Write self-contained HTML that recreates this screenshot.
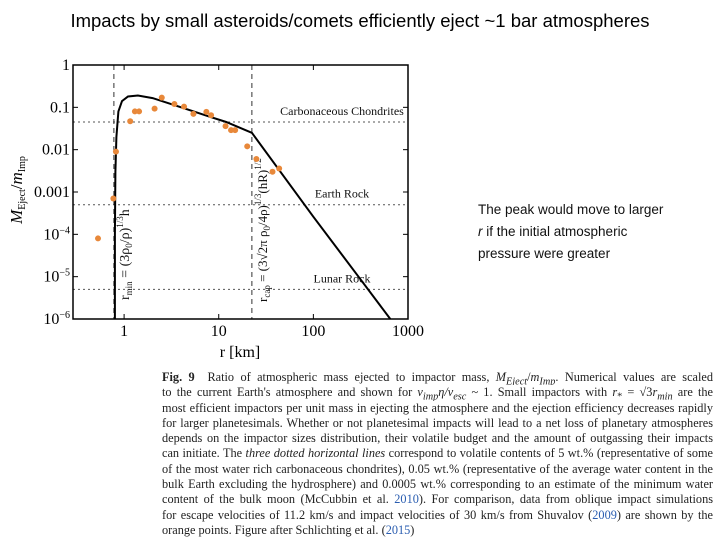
<!DOCTYPE html>
<html><head><meta charset="utf-8"><style>
html,body{margin:0;padding:0;background:#fff;width:720px;height:540px;overflow:hidden;position:relative}
.title{position:absolute;left:0;top:10px;width:720px;text-align:center;font:18.5px "Liberation Sans",sans-serif;color:#000}
.note{position:absolute;left:478px;top:199px;width:240px;white-space:nowrap;font:13.5px/22px "Liberation Sans",sans-serif;color:#111}
.cap{position:absolute;left:162px;top:370px;width:551px;font:12.3px/15.3px "Liberation Serif",serif;color:#222}
.cap div{text-align:justify;text-align-last:justify;white-space:nowrap;height:15.3px;overflow:hidden}
.cap div.last{text-align-last:left}
.b{color:#2a5db0}
</style></head><body>
<div class="title">Impacts by small asteroids/comets efficiently eject ~1 bar atmospheres</div>
<svg id="chart" width="720" height="540" style="position:absolute;left:0;top:0" font-family="Liberation Serif, serif"></svg>
<div class="note">The peak would move to larger<br><i>r</i> if the initial atmospheric<br>pressure were greater</div>
<div class="cap">
<div><b>Fig. 9</b>&nbsp; Ratio of atmospheric mass ejected to impactor mass, <i>M<sub>Eject</sub></i>/<i>m<sub>Imp</sub></i>. Numerical values are scaled</div>
<div>to the current Earth's atmosphere and shown for <i>v<sub>imp</sub>η/v<sub>esc</sub></i> ~ 1. Small impactors with <i>r</i><sub>*</sub> = √3<i>r<sub>min</sub></i> are the</div>
<div>most efficient impactors per unit mass in ejecting the atmosphere and the ejection efficiency decreases rapidly</div>
<div>for larger planetesimals. Whether or not planetesimal impacts will lead to a net loss of planetary atmospheres</div>
<div>depends on the impactor sizes distribution, their volatile budget and the amount of outgassing their impacts</div>
<div>can initiate. The <i>three dotted horizontal lines</i> correspond to volatile contents of 5 wt.% (representative of some</div>
<div>of the most water rich carbonaceous chondrites), 0.05 wt.% (representative of the average water content in the</div>
<div>bulk Earth excluding the hydrosphere) and 0.0005 wt.% corresponding to an estimate of the minimum water</div>
<div>content of the bulk moon (McCubbin et al. <span class="b">2010</span>). For comparison, data from oblique impact simulations</div>
<div>for escape velocities of 11.2 km/s and impact velocities of 30 km/s from Shuvalov (<span class="b">2009</span>) are shown by the</div>
<div class="last">orange points. Figure after Schlichting et al. (<span class="b">2015</span>)</div>
</div>
<script>
const xTicks=[1,10,100,1000];
const xTickLabels=["1","10","100","1000"];
const yTicks=[1,0.1,0.01,0.001,1e-4,1e-5,1e-6];
const yTickLabels=["1","0.1","0.01","0.001","10^-4","10^-5","10^-6"];
const pointsR=[0.53,0.77,0.82,1.16,1.3,1.44,2.1,2.5,3.4,4.3,5.4,7.4,8.3,11.8,13.5,14.9,20,25,37,43.5];
const pointsM=[8e-5,7e-4,0.009,0.047,0.08,0.08,0.093,0.17,0.12,0.104,0.07,0.078,0.065,0.036,0.029,0.029,0.012,0.006,0.003,0.0036];
const curveR=[0.8,0.8,0.81,0.83,0.87,0.95,1.1,1.4,2,4,8,12,22.4,100,300,650];
const curveM=[1e-6,1e-4,0.003,0.02,0.08,0.14,0.18,0.19,0.165,0.1,0.06,0.045,0.025,2.6e-4,1e-5,1e-6];
const hLines=[0.045,5e-4,5e-6];
const hLineLabels=["Carbonaceous Chondrites","Earth Rock","Lunar Rock"];
const vLines=[0.78,22.4];

const L=73,R=408,T=65,B=319;
const xMinLog=-0.54,xMaxLog=3.0;
function xs(r){return L+(Math.log10(r)-xMinLog)/(xMaxLog-xMinLog)*(R-L);}
function ys(m){return T+(0-Math.log10(m))/6*(B-T);}
const svg=document.getElementById('chart');
const NS='http://www.w3.org/2000/svg';
function mk(tag,attrs,parent){const e=document.createElementNS(NS,tag);for(const k in attrs)e.setAttribute(k,attrs[k]);(parent||svg).appendChild(e);return e;}

hLines.forEach((v,i)=>{
  const l=mk('line',{x1:L,x2:R,y1:ys(v),y2:ys(v),stroke:'#555','stroke-width':1,'stroke-dasharray':'2,3'});
  
  
  const t=mk('text',{x:342,y:ys(v)-7,'font-size':12,'text-anchor':'middle',fill:'#111'});
  t.textContent=hLineLabels[i];
  
  
});
vLines.forEach((v,i)=>{
  const l=mk('line',{x1:xs(v),x2:xs(v),y1:T,y2:B,stroke:'#333','stroke-width':1,'stroke-dasharray':'5,4'});
  
  
});
let f1=mk('text',{transform:`translate(${xs(vLines[0])+15},300) rotate(-90)`,'font-size':14,fill:'#111'});
f1.innerHTML='r<tspan font-size="9" dy="3">min</tspan><tspan dy="-3"> = (3ρ</tspan><tspan font-size="9" dy="3">0</tspan><tspan dy="-3">/ρ)</tspan><tspan font-size="9" dy="-6">1/3</tspan><tspan dy="6">h</tspan>';


let f2=mk('text',{transform:`translate(${xs(vLines[1])+15},302) rotate(-90)`,'font-size':13,fill:'#111'});
f2.innerHTML='r<tspan font-size="9" dy="3">cap</tspan><tspan dy="-3"> = (3√2π ρ</tspan><tspan font-size="9" dy="3">0</tspan><tspan dy="-3">/4ρ)</tspan><tspan font-size="9" dy="-6">1/3</tspan><tspan dy="6">(hR)</tspan><tspan font-size="9" dy="-6">1/2</tspan>';



let d='';curveR.forEach((r,i)=>{d+=(i?'L':'M')+xs(r).toFixed(1)+','+ys(curveM[i]).toFixed(1);});
const c=mk('path',{d:d,fill:'none',stroke:'#000','stroke-width':2});


pointsR.forEach((r,i)=>{
  const p=mk('circle',{cx:xs(r),cy:ys(pointsM[i]),r:3,fill:'#e8883a'});
  
  
});
const fr=mk('rect',{x:L,y:T,width:R-L,height:B-T,fill:'none',stroke:'#000','stroke-width':1.5});


xTicks.forEach((v,i)=>{
  const x=xs(v);
  mk('line',{x1:x,x2:x,y1:B,y2:B-5,stroke:'#000'});
  mk('line',{x1:x,x2:x,y1:T,y2:T+5,stroke:'#000'});
  const t=mk('text',{x:x,y:B+17,'font-size':16,'text-anchor':'middle'});
  t.textContent=xTickLabels[i];
  
  
});
yTicks.forEach((v,i)=>{
  const y=ys(v);
  mk('line',{x1:L,x2:L+5,y1:y,y2:y,stroke:'#000'});
  mk('line',{x1:R,x2:R-5,y1:y,y2:y,stroke:'#000'});
  const t=mk('text',{x:L-3,y:y+5,'font-size':16,'text-anchor':'end'});
  const lab=yTickLabels[i];
  if(lab.indexOf('^')>=0){const p=lab.split('^');t.innerHTML=p[0]+'<tspan font-size="10" dy="-6">'+p[1].replace('-','−')+'</tspan>';}
  else t.textContent=lab;
  
  
});
const xt=mk('text',{x:240,y:357,'font-size':16,'text-anchor':'middle'});
xt.textContent='r [km]';


const yt=mk('text',{transform:'translate(22,190) rotate(-90)','font-size':17,'text-anchor':'middle'});
yt.innerHTML='<tspan font-style="italic">M</tspan><tspan font-size="10" dy="3">Eject</tspan><tspan dy="-3">/</tspan><tspan font-style="italic">m</tspan><tspan font-size="10" dy="3">Imp</tspan>';


</script>
</body></html>
